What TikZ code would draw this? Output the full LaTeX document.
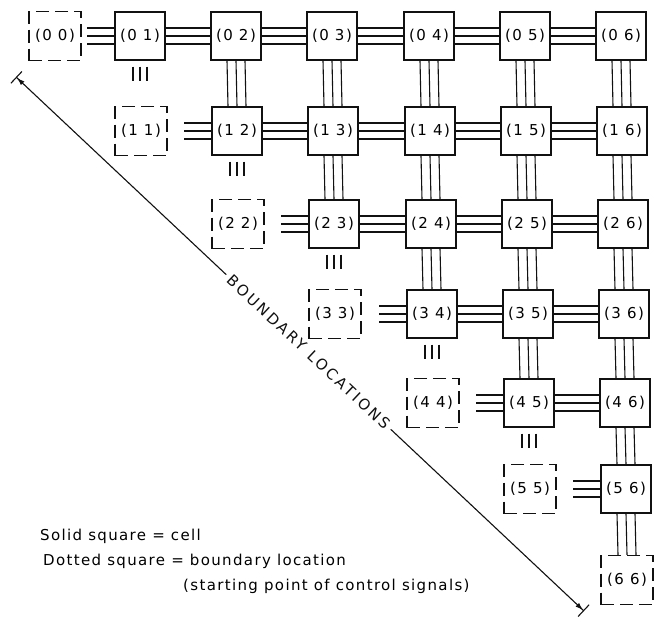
\documentclass[tikz,border=0pt]{standalone}
\usepackage{fontspec}
\usepackage{tikz}
\usetikzlibrary{arrows.meta,calc}
\newfontfamily\cellfont[LetterSpace=10]{DejaVu Sans}
\newfontfamily\notefont[LetterSpace=9]{DejaVu Sans}
\newfontfamily\boundfont[LetterSpace=18]{DejaVu Sans}
\definecolor{inkblack}{HTML}{111111}
\newcommand{\celllabel}[2]{(#1\hspace{6pt}#2)}
\tikzset{
  cellbox/.style={draw=inkblack, line width=1.3pt, minimum width=50pt, minimum height=48pt, inner sep=0pt, font=\cellfont\fontsize{15}{17}\selectfont},
  boundbox/.style={cellbox, dash pattern=on 13pt off 6pt, minimum width=52pt, minimum height=49pt},
  wire/.style={inkblack, line width=1.1pt},
  boundarrow/.style={inkblack, line width=1.1pt, arrows={Bar[width=16pt] Latex[length=8pt,width=5pt]-Latex[length=8pt,width=5pt] Bar[width=16pt]}},
  notetext/.style={anchor=base west, inner sep=0pt, font=\notefont\fontsize{15}{18}\selectfont}
}
\begin{document}
\begin{tikzpicture}[x=1pt, y=-1pt]
  \useasboundingbox (0,0) rectangle (658,629);
  % diagonal marker first, the cells go on top of its label patch
  \coordinate (bstart) at (16,77);
  \coordinate (bend) at (584,611);
  \draw[boundarrow] (bstart) -- node[pos=0.515, sloped, fill=white, inner sep=4pt, font=\boundfont\fontsize{15}{18}\selectfont] (blabel) {BOUNDARY LOCATIONS} (bend);
  % boundary locations (dashed) and cells (solid)
  \foreach \i in {0,...,6} {
    \pgfmathsetmacro\ry{{36,131,224,314,403,489,580}[\i]}
    \pgfmathsetmacro\rx{{55,140,236,332,429,525,621}[\i]+\i}
    \node[boundbox] (c\i\i) at (\rx,\ry) {\celllabel{\i}{\i}};
    \ifnum\i<6
      \pgfmathtruncatemacro\jn{\i+1}
      \foreach \j in {\jn,...,6} {
        \pgfmathsetmacro\cx{{55,140,236,332,429,525,621}[\j]+\i}
        \node[cellbox] (c\i\j) at (\cx,\ry) {\celllabel{\i}{\j}};
      }
    \fi
  }
  % horizontal buses
  \foreach \i in {0,...,4} {
    \pgfmathtruncatemacro\jn{\i+1}
    \foreach \j in {\jn,...,5} {
      \pgfmathtruncatemacro\jj{\j+1}
      \foreach \d in {-8,0,8}
        \draw[wire] ([yshift=\d pt]c\i\j.east) -- ([yshift=\d pt]c\i\jj.west);
    }
  }
  % vertical buses
  \foreach \i in {0,...,4} {
    \pgfmathtruncatemacro\jn{\i+2}
    \pgfmathtruncatemacro\ii{\i+1}
    \foreach \j in {\jn,...,6} {
      \foreach \d in {-9,0,9}
        \draw[wire] ([xshift=\d pt]c\i\j.south) -- ([xshift=\d pt]c\ii\j.north);
    }
  }
  \foreach \d in {-9,0,9}
    \draw[wire] ([xshift=\d pt]c56.south) -- ([xshift=\d pt]c66.north);
  % control inputs beside and under the first cell of each row
  \foreach \i in {0,...,5} {
    \pgfmathtruncatemacro\jn{\i+1}
    \coordinate (in\i) at ([xshift=-27pt]c\i\jn.west);
    \foreach \d in {-8,0,8}
      \draw[wire] ([yshift=\d pt]in\i) -- ([yshift=\d pt]c\i\jn.west);
  }
  \foreach \i in {0,...,4} {
    \pgfmathtruncatemacro\jn{\i+1}
    \coordinate (dt\i) at ([yshift=-6pt]c\i\jn.south);
    \coordinate (db\i) at ([yshift=-20pt]c\i\jn.south);
    \foreach \d in {-7,0,7}
      \draw[wire] ([xshift=\d pt]dt\i) -- ([xshift=\d pt]db\i);
  }
  % legend
  \node[notetext] (solidnote) at (40,540) {Solid square = cell};
  \node[notetext] (dashnote) at (43,565) {Dotted square = boundary location};
  \node[notetext] (startnote) at (183,590) {(starting point of control signals)};
\end{tikzpicture}
\end{document}
